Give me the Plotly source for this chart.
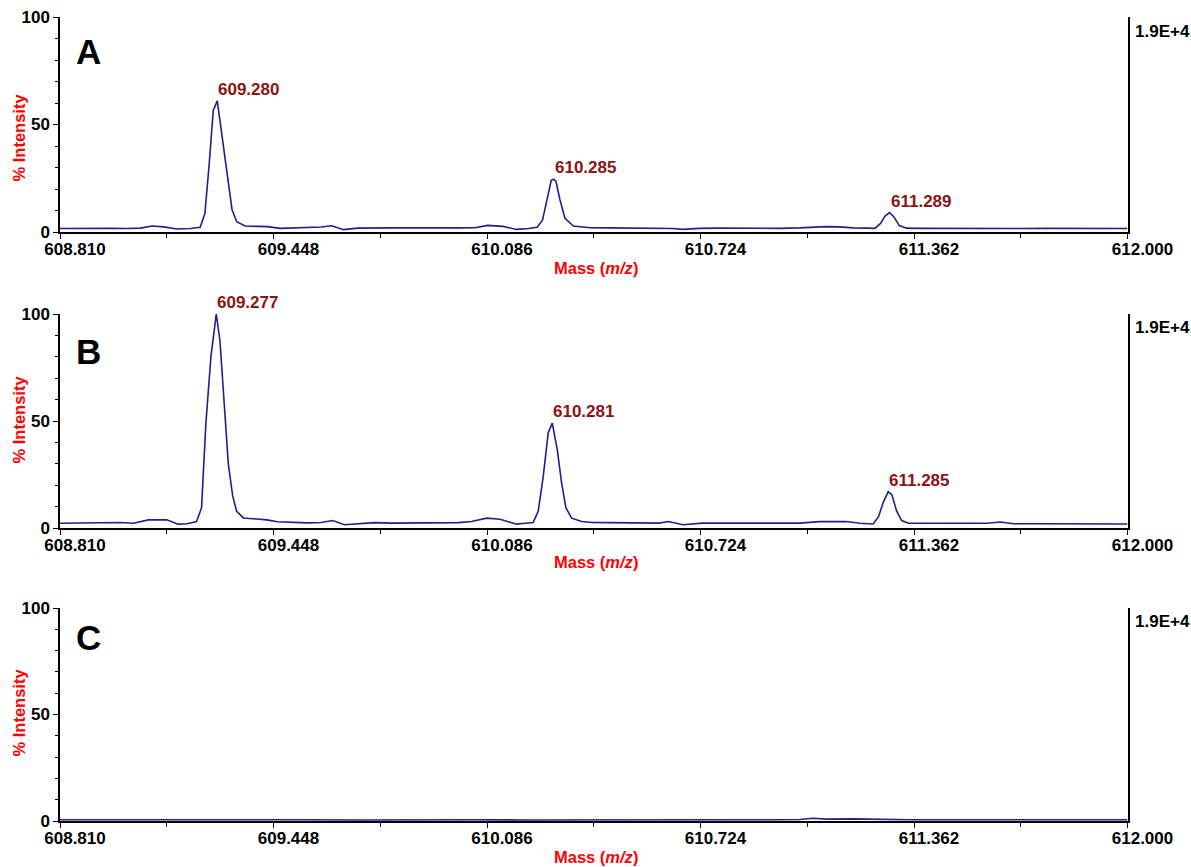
import plotly.graph_objects as go

# ---- spectra (m/z, % intensity) ----
mz_a = [608.810, 608.860, 608.910, 608.960, 609.010, 609.050, 609.085, 609.120, 609.160,
        609.200, 609.229, 609.243, 609.256, 609.268, 609.280, 609.296, 609.312, 609.324,
        609.338, 609.363, 609.400, 609.430, 609.468, 609.510, 609.548, 609.590, 609.622,
        609.657, 609.700, 609.750, 609.800, 609.850, 609.900, 609.950, 610.000, 610.050,
        610.088, 610.134, 610.174, 610.210, 610.236, 610.252, 610.266, 610.278, 610.285,
        610.292, 610.304, 610.319, 610.344, 610.394, 610.450, 610.500, 610.550, 610.600,
        610.640, 610.672, 610.720, 610.780, 610.840, 610.900, 610.960, 611.020, 611.070,
        611.100, 611.140, 611.180, 611.220, 611.245, 611.262, 611.276, 611.289, 611.302,
        611.318, 611.340, 611.380, 611.450, 611.520, 611.600, 611.680, 611.760, 611.840,
        611.920, 612.000]
int_a = [1.6, 1.7, 1.6, 1.7, 1.6, 1.8, 2.8, 2.4, 1.4,
         1.6, 2.2, 8.6, 32.0, 56.5, 61.0, 43.5, 24.0, 10.5,
         4.8, 2.8, 2.6, 2.5, 1.7, 2.0, 2.2, 2.3, 2.9,
         1.1, 1.8, 2.0, 1.9, 1.9, 1.8, 1.9, 1.9, 2.0,
         3.1, 2.6, 1.2, 1.6, 2.2, 5.6, 15.0, 24.0, 24.6,
         23.6, 15.0, 6.4, 2.8, 2.0, 1.9, 1.8, 1.8, 1.7,
         1.6, 1.2, 1.7, 1.8, 1.7, 1.8, 1.7, 1.9, 2.3,
         2.5, 2.4, 1.9, 1.8, 1.7, 4.0, 7.5, 9.0, 7.0,
         3.0, 1.8, 1.7, 1.6, 1.7, 1.6, 1.6, 1.7, 1.6,
         1.6, 1.6]

mz_b = [608.810, 608.870, 608.930, 608.990, 609.030, 609.074, 609.129, 609.163, 609.190,
        609.218, 609.233, 609.246, 609.261, 609.277, 609.288, 609.300, 609.313, 609.326,
        609.338, 609.358, 609.428, 609.460, 609.500, 609.550, 609.590, 609.625, 609.660,
        609.700, 609.750, 609.800, 609.850, 609.900, 609.950, 610.000, 610.040, 610.085,
        610.125, 610.174, 610.200, 610.224, 610.239, 610.254, 610.269, 610.281, 610.296,
        610.309, 610.322, 610.339, 610.369, 610.400, 610.450, 610.500, 610.550, 610.600,
        610.628, 610.672, 610.730, 610.800, 610.880, 610.950, 611.020, 611.080, 611.160,
        611.200, 611.240, 611.256, 611.270, 611.285, 611.296, 611.310, 611.325, 611.345,
        611.400, 611.460, 611.520, 611.580, 611.620, 611.660, 611.750, 611.850, 611.930,
        612.000]
int_b = [2.2, 2.3, 2.4, 2.6, 2.2, 3.8, 3.8, 1.8, 2.0,
         3.0, 9.4, 49.0, 80.0, 100.0, 87.5, 58.0, 30.0, 15.0,
         7.8, 4.7, 3.8, 2.9, 2.6, 2.4, 2.6, 3.5, 1.5,
         2.0, 2.5, 2.3, 2.4, 2.3, 2.3, 2.5, 3.0, 4.6,
         4.1, 1.8, 2.2, 2.6, 7.8, 24.0, 44.5, 49.0, 36.6,
         21.0, 9.4, 4.6, 3.0, 2.6, 2.5, 2.4, 2.4, 2.3,
         3.0, 1.5, 2.3, 2.3, 2.2, 2.2, 2.3, 3.0, 3.0,
         2.2, 1.9, 5.3, 12.0, 17.0, 15.5, 8.0, 3.5, 2.2,
         2.2, 2.0, 2.0, 2.2, 2.8, 2.0, 2.0, 2.0, 1.9,
         1.9]

mz_c = [608.810, 608.950, 609.100, 609.170, 609.250, 609.400, 609.550, 609.700, 609.850,
        609.970, 610.050, 610.200, 610.350, 610.500, 610.650, 610.800, 610.950, 611.020,
        611.060, 611.100, 611.180, 611.250, 611.350, 611.500, 611.650, 611.800, 612.000]
int_c = [0.6, 0.6, 0.8, 0.9, 0.6, 0.6, 0.6, 0.5, 0.6,
         0.8, 0.6, 0.5, 0.6, 0.6, 0.5, 0.6, 0.6, 0.7,
         1.3, 0.9, 1.0, 0.7, 0.6, 0.6, 0.6, 0.6, 0.6]

# labelled peak centroids per panel
peaks_a = [609.280, 610.285, 611.289]
peaks_b = [609.277, 610.281, 611.285]

x_ticks = [608.810, 609.448, 610.086, 610.724, 611.362, 612.000]
x_minor = [609.129, 609.767, 610.405, 611.043, 611.681]
y_ticks = [0, 50, 100]
panel_letters = ["A", "B", "C"]
scale_label = "1.9E+4"

W, H = 1191, 867
FONT = "Liberation Sans, Arial, sans-serif"
LINE = "#1f1f8f"
PEAK_TXT = "#8b1414"


def px(x):
    return x / W


def py(y):
    return 1 - y / H


# plot areas in pixels: (top, bottom)
panel_rows = [(17, 232), (314, 528), (608, 821)]
x_left, x_right = 60, 1127.5

fig = go.Figure()
series = [(mz_a, int_a, peaks_a), (mz_b, int_b, peaks_b), (mz_c, int_c, [])]
annotations = []
title_y = [138, 420, 713]
mass_y = [268, 562, 857]
letter_y = [52, 351, 637]
scale_y = [31, 327, 621]


def paper_text(text, x, y, size, color, xanchor="center", angle=0):
    return dict(text=text, x=px(x), y=py(y), xref="paper", yref="paper",
                xanchor=xanchor, yanchor="middle", textangle=angle, showarrow=False,
                font=dict(family=FONT, size=size, color=color, weight="bold"))


for i, ((mz, inten, peaks), (top, bot)) in enumerate(zip(series, panel_rows), start=1):
    xa = "x" if i == 1 else f"x{i}"
    ya = "y" if i == 1 else f"y{i}"
    fig.add_trace(go.Scatter(x=mz, y=inten, mode="lines", xaxis=xa, yaxis=ya,
                             line=dict(color=LINE, width=1.6), showlegend=False,
                             hoverinfo="skip"))
    fig.layout[f"xaxis{'' if i == 1 else i}"] = dict(
        domain=[px(x_left), px(x_right)], anchor=ya, range=[608.810, 612.000],
        automargin=False,
        tickmode="array", tickvals=x_ticks, ticktext=[f"{v:.3f}" for v in x_ticks],
        ticks="outside", ticklen=5, tickwidth=1.2, tickcolor="black",
        ticklabelshift=15, ticklabelstandoff=-4,
        minor=dict(tickmode="array", tickvals=x_minor, ticks="outside", ticklen=4,
                   tickwidth=1.2, tickcolor="black"),
        showline=True, linecolor="black", linewidth=1.5, showgrid=False, zeroline=False,
        tickfont=dict(family=FONT, size=17, color="black", weight="bold"),
    )
    fig.layout[f"yaxis{'' if i == 1 else i}"] = dict(
        domain=[py(bot), py(top)], anchor=xa, range=[0, 100],
        automargin=False,
        tickmode="array", tickvals=y_ticks, ticktext=[str(v) for v in y_ticks],
        ticks="outside", ticklen=5, tickwidth=1.2, tickcolor="black",
        minor=dict(dtick=10, tick0=0, ticks="outside", ticklen=3, tickwidth=1,
                   tickcolor="black"),
        showline=True, mirror=True, linecolor="black", linewidth=1.5,
        showgrid=False, zeroline=False,
        tickfont=dict(family=FONT, size=17, color="black", weight="bold"),
    )
    k = i - 1
    annotations += [
        paper_text(panel_letters[k], 88, letter_y[k], 35, "black"),
        paper_text("% Intensity", 18.5, title_y[k], 16.5, "#ff0000", angle=-90),
        paper_text("Mass (<i>m/z</i>)", 596, mass_y[k], 16.5, "#ff0000"),
        paper_text(scale_label, 1133, scale_y[k], 17, "black", xanchor="left"),
    ]
    for p in peaks:
        annotations.append(dict(
            text=f"{p:.3f}", x=p, y=inten[mz.index(p)], xref=xa, yref=ya,
            xanchor="left", yanchor="bottom", yshift=0, xshift=-1, showarrow=False,
            font=dict(family=FONT, size=17, color=PEAK_TXT, weight="bold")))

fig.update_layout(width=W, height=H, margin=dict(l=0, r=0, t=0, b=0),
                  paper_bgcolor="white", plot_bgcolor="white",
                  annotations=annotations)

fig.write_html("out.html")
